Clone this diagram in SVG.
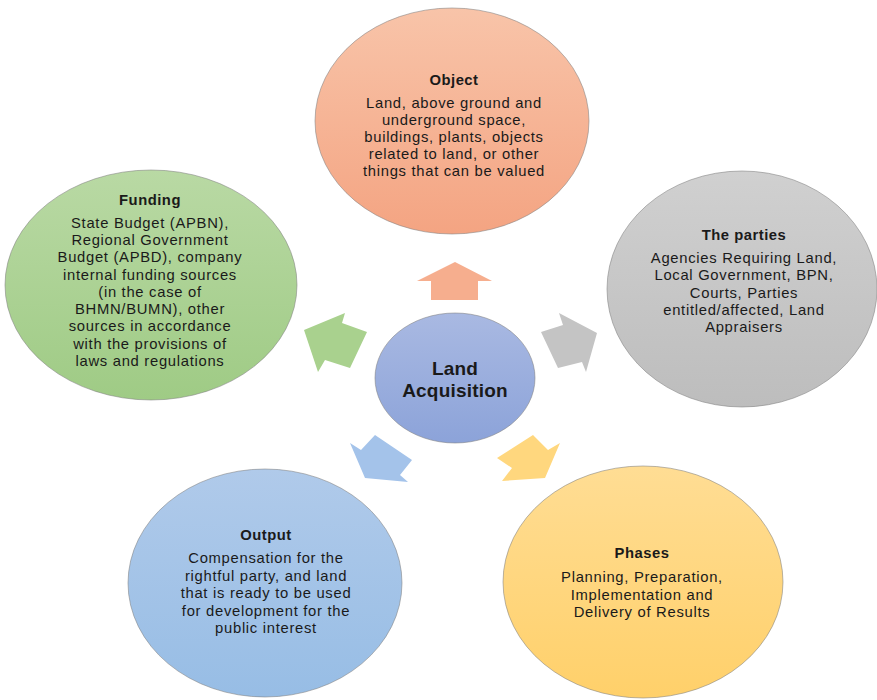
<svg xmlns="http://www.w3.org/2000/svg" width="877" height="700" viewBox="0 0 877 700">
<defs>
<linearGradient id="gO" x1="0" y1="0" x2="0" y2="1"><stop offset="0" stop-color="#F8C4A9"/><stop offset="1" stop-color="#F4A482"/></linearGradient>
<linearGradient id="gF" x1="0" y1="0" x2="0" y2="1"><stop offset="0" stop-color="#B9D9A4"/><stop offset="1" stop-color="#9FCB85"/></linearGradient>
<linearGradient id="gP" x1="0" y1="0" x2="0" y2="1"><stop offset="0" stop-color="#D0D0D0"/><stop offset="1" stop-color="#BDBDBD"/></linearGradient>
<linearGradient id="gC" x1="0" y1="0" x2="0" y2="1"><stop offset="0" stop-color="#A9B9E2"/><stop offset="1" stop-color="#8CA3D9"/></linearGradient>
<linearGradient id="gU" x1="0" y1="0" x2="0" y2="1"><stop offset="0" stop-color="#B0CAEA"/><stop offset="1" stop-color="#97BDE5"/></linearGradient>
<linearGradient id="gH" x1="0" y1="0" x2="0" y2="1"><stop offset="0" stop-color="#FFDD94"/><stop offset="1" stop-color="#FFD06A"/></linearGradient>
</defs>
<style>
.n{stroke:#7f7f7f;stroke-opacity:0.55;stroke-width:1}
text{font-family:"Liberation Sans",Arial,sans-serif;fill:#1a1a1a;text-anchor:middle}
.t{font-size:14.8px;font-weight:bold;letter-spacing:0.5px}
.b{font-size:14.8px;letter-spacing:0.7px}
.c{font-size:19px;font-weight:bold;letter-spacing:0.2px}
</style>
<g id="connectors">
<polygon points="455,262 492,281 478,281 478,300 431,300 431,281 417,281" fill="#F6AE8E"/>
<polygon points="304,330 345,313 342,323 367,332 350,368 325,360 318,372" fill="#A9D18E"/>
<polygon points="597,333 559,313 563,325 541,332 558,368 582,362 586,372" fill="#C4C4C4"/>
<polygon points="365,478 350,443 361,450 375,435 412,460 400,475 408,482" fill="#A4C3EA"/>
<polygon points="545,478 560,443 548,450 533,435 497,458 512,468 502,481" fill="#FFD77E"/>
</g>
<g id="object">
<ellipse class="n" cx="452" cy="121" rx="137" ry="113" fill="url(#gO)"/>
<text class="t" x="454" y="85">Object</text>
<text class="b" x="454" y="108">Land, above ground and</text>
<text class="b" x="454" y="125">underground space,</text>
<text class="b" x="454" y="142">buildings, plants, objects</text>
<text class="b" x="454" y="159">related to land, or other</text>
<text class="b" x="454" y="176">things that can be valued</text>
</g>
<g id="funding">
<ellipse class="n" cx="151" cy="285" rx="146" ry="115" fill="url(#gF)"/>
<text class="t" x="150" y="205">Funding</text>
<text class="b" x="150" y="228">State Budget (APBN),</text>
<text class="b" x="150" y="245">Regional Government</text>
<text class="b" x="150" y="262">Budget (APBD), company</text>
<text class="b" x="150" y="280">internal funding sources</text>
<text class="b" x="150" y="297">(in the case of</text>
<text class="b" x="150" y="314">BHMN/BUMN), other</text>
<text class="b" x="150" y="331">sources in accordance</text>
<text class="b" x="150" y="349">with the provisions of</text>
<text class="b" x="150" y="366">laws and regulations</text>
</g>
<g id="parties">
<ellipse class="n" cx="742" cy="289" rx="135" ry="118" fill="url(#gP)"/>
<text class="t" x="744" y="240">The parties</text>
<text class="b" x="744" y="263">Agencies Requiring Land,</text>
<text class="b" x="744" y="280">Local Government, BPN,</text>
<text class="b" x="744" y="298">Courts, Parties</text>
<text class="b" x="744" y="315">entitled/affected, Land</text>
<text class="b" x="744" y="332">Appraisers</text>
</g>
<g id="center">
<ellipse class="n" cx="455" cy="378" rx="80" ry="65" fill="url(#gC)"/>
<text class="c" x="455" y="375">Land</text>
<text class="c" x="455" y="397">Acquisition</text>
</g>
<g id="output">
<ellipse class="n" cx="265" cy="583" rx="137" ry="114" fill="url(#gU)"/>
<text class="t" x="266" y="540">Output</text>
<text class="b" x="266" y="563">Compensation for the</text>
<text class="b" x="266" y="581">rightful party, and land</text>
<text class="b" x="266" y="598">that is ready to be used</text>
<text class="b" x="266" y="616">for development for the</text>
<text class="b" x="266" y="633">public interest</text>
</g>
<g id="phases">
<ellipse class="n" cx="643" cy="582" rx="140" ry="116" fill="url(#gH)"/>
<text class="t" x="642" y="558">Phases</text>
<text class="b" x="642" y="582">Planning, Preparation,</text>
<text class="b" x="642" y="600">Implementation and</text>
<text class="b" x="642" y="617">Delivery of Results</text>
</g>
</svg>
